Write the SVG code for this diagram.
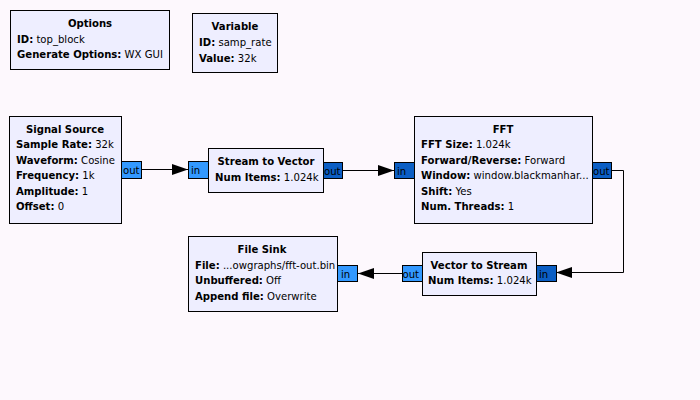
<svg xmlns="http://www.w3.org/2000/svg" width="700" height="400" viewBox="0 0 700 400">
<defs>
<style>
text{font-family:"DejaVu Sans","Liberation Sans",sans-serif;font-size:10.1px;fill:#000}
.t{font-weight:bold;text-anchor:middle}
.b{font-weight:bold}
.blk{fill:#eeeeff;stroke:#000;stroke-width:1}
.pl{fill:#3399ff;stroke:#000;stroke-width:1}
.pd{fill:#0b5ec4;stroke:#000;stroke-width:1}
.c{fill:none;stroke:#000;stroke-width:1}
</style>
<marker id="ah" markerUnits="userSpaceOnUse" markerWidth="17" markerHeight="12" refX="16" refY="6" orient="auto">
<path d="M0,0.5 L16,6 L0,11.5 z" fill="#000"/>
</marker>
</defs>
<rect width="700" height="400" fill="#fdf8fd"/>
<g id="connectors">
<path class="c" d="M142,169.5 H188" marker-end="url(#ah)"/>
<path class="c" d="M342,170.5 H394" marker-end="url(#ah)"/>
<path class="c" d="M612,170.5 H623.5 V272.5 H556" marker-end="url(#ah)"/>
<path class="c" d="M402,273.5 H358" marker-end="url(#ah)"/>
</g>
<g id="options">
<rect class="blk" x="10.5" y="10.5" width="159" height="59"/>
<text class="t" x="90" y="27">Options</text>
<text x="17" y="43"><tspan class="b">ID:</tspan> top_block</text>
<text x="17" y="58"><tspan class="b">Generate Options:</tspan> WX GUI</text>
</g>
<g id="variable">
<rect class="blk" x="192.5" y="13.5" width="85" height="59"/>
<text class="t" x="235" y="30">Variable</text>
<text x="199" y="46"><tspan class="b">ID:</tspan> samp_rate</text>
<text x="199" y="62"><tspan class="b">Value:</tspan> 32k</text>
</g>
<g id="signal_source">
<rect class="blk" x="9.5" y="116.5" width="112" height="107"/>
<text class="t" x="65" y="133">Signal Source</text>
<text x="16" y="148"><tspan class="b">Sample Rate:</tspan> 32k</text>
<text x="16" y="163.5"><tspan class="b">Waveform:</tspan> Cosine</text>
<text x="16" y="179"><tspan class="b">Frequency:</tspan> 1k</text>
<text x="16" y="194.5"><tspan class="b">Amplitude:</tspan> 1</text>
<text x="16" y="210"><tspan class="b">Offset:</tspan> 0</text>
<rect class="pl" x="121.5" y="161.5" width="20" height="17"/>
<text x="123" y="174">out</text>
</g>
<g id="stream_to_vector">
<rect class="blk" x="208.5" y="148.5" width="115" height="44"/>
<text class="t" x="266" y="165">Stream to Vector</text>
<text x="215" y="180.5"><tspan class="b">Num Items:</tspan> 1.024k</text>
<rect class="pl" x="188.5" y="161.5" width="20" height="17"/>
<text x="191" y="174">in</text>
<rect class="pd" x="323.5" y="162.5" width="19" height="16"/>
<text x="324" y="175">out</text>
</g>
<g id="fft">
<rect class="blk" x="414.5" y="116.5" width="178" height="107"/>
<text class="t" x="503" y="133">FFT</text>
<text x="421" y="148"><tspan class="b">FFT Size:</tspan> 1.024k</text>
<text x="421" y="163.5"><tspan class="b">Forward/Reverse:</tspan> Forward</text>
<text x="421" y="179"><tspan class="b">Window:</tspan> window.blackmanhar...</text>
<text x="421" y="194.5"><tspan class="b">Shift:</tspan> Yes</text>
<text x="421" y="210"><tspan class="b">Num. Threads:</tspan> 1</text>
<rect class="pd" x="394.5" y="162.5" width="20" height="16"/>
<text x="397" y="175">in</text>
<rect class="pd" x="592.5" y="162.5" width="19" height="16"/>
<text x="593" y="175">out</text>
</g>
<g id="vector_to_stream">
<rect class="blk" x="422.5" y="252.5" width="114" height="43"/>
<text class="t" x="479" y="268.5">Vector to Stream</text>
<text x="428" y="284"><tspan class="b">Num Items:</tspan> 1.024k</text>
<rect class="pd" x="536.5" y="265.5" width="20" height="16"/>
<text x="539" y="278">in</text>
<rect class="pl" x="402.5" y="265.5" width="20" height="16"/>
<text x="402.5" y="278">out</text>
</g>
<g id="file_sink">
<rect class="blk" x="188.5" y="236.5" width="149" height="75"/>
<text class="t" x="262" y="253">File Sink</text>
<text x="195" y="268.5"><tspan class="b">File:</tspan> ...owgraphs/fft-out.bin</text>
<text x="195" y="284"><tspan class="b">Unbuffered:</tspan> Off</text>
<text x="195" y="299.5"><tspan class="b">Append file:</tspan> Overwrite</text>
<rect class="pl" x="337.5" y="265.5" width="20" height="16"/>
<text x="341" y="278">in</text>
</g>
</svg>
